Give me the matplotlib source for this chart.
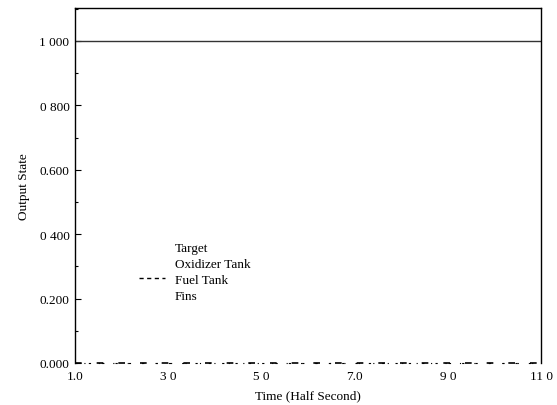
import matplotlib
matplotlib.use("Agg")
import matplotlib.pyplot as plt
from matplotlib.lines import Line2D
from matplotlib.ticker import MultipleLocator

time = [1.0, 2.0, 3.0, 4.0, 5.0, 6.0, 7.0, 8.0, 9.0, 10.0, 11.0]
target = [1.0] * 11
oxidizer = [0.0] * 11
fuel = [0.0] * 11
fins = [0.0] * 11
xticks = [1.0, 3.0, 5.0, 7.0, 9.0, 11.0]
xtick_labels = ["1.0", "3 0", "5 0", "7.0", "9 0", "11 0"]
yticks = [0.0, 0.2, 0.4, 0.6, 0.8, 1.0]
ytick_labels = ["0.000", "0.200", "0 400", "0.600", "0 800", "1 000"]
series_names = ["Target", "Oxidizer Tank", "Fuel Tank", "Fins"]

plt.rcParams['font.family'] = ['Liberation Serif', 'DejaVu Serif']
fig = plt.figure(figsize=(5.57, 4.06), dpi=100)
ax = fig.add_axes([75/557, 1 - 364/406, (541-75)/557, (364-9)/406])

ax.plot(time, target, color='#333333', lw=1.0)
ax.plot(time, oxidizer, color='black', lw=0.8, linestyle=(0, (2, 10)), clip_on=False)
ax.plot(time, fuel, color='black', lw=1.2, linestyle=(0, (4, 9)), clip_on=False)
ax.plot(time, fins, color='black', lw=0.8, linestyle=(5, (1, 12)), clip_on=False)

ax.set_xlim(1.0, 11.0)
ax.set_ylim(0.0, 1.102)
ax.set_xticks(xticks)
ax.set_xticklabels(xtick_labels)
ax.set_yticks(yticks)
ax.set_yticklabels(ytick_labels)
ax.yaxis.set_minor_locator(MultipleLocator(0.1))
ax.tick_params(axis='both', direction='in', length=4, width=0.8, labelsize=9.5, pad=4)
ax.tick_params(axis='y', which='minor', direction='in', length=2, width=0.8)
ax.tick_params(axis='x', length=0, pad=5)
ax.spines['bottom'].set_visible(False)
for s in ['left', 'right', 'top']:
    ax.spines[s].set_linewidth(1.0)

ax.set_xlabel("Time (Half Second)", fontsize=9.5, labelpad=5)
ax.set_ylabel("Output State", fontsize=9.5, labelpad=7)

handles = [
    Line2D([], [], linestyle='none'),
    Line2D([], [], linestyle='none'),
    Line2D([], [], color='black', lw=1.0, linestyle=(0, (3, 2.5))),
    Line2D([], [], linestyle='none'),
]
ax.legend(handles, series_names, loc='upper left', frameon=False,
          bbox_to_anchor=(128/557, 1 - 232/406), bbox_transform=fig.transFigure,
          fontsize=9.5, handlelength=2.0, handletextpad=0.75, labelspacing=0.28,
          borderpad=0.3)

fig.savefig("out.png", dpi=100)
